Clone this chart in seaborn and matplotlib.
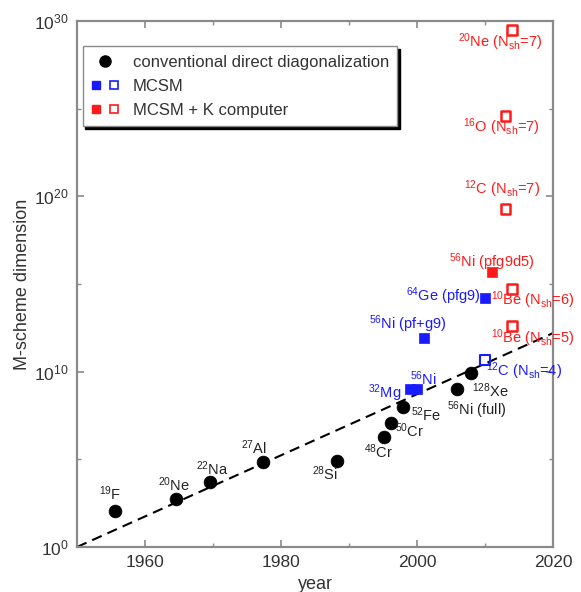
import numpy as np
import pandas as pd
import matplotlib
matplotlib.use("Agg")
import matplotlib.pyplot as plt
import seaborn as sns
from matplotlib.lines import Line2D
from matplotlib.legend_handler import HandlerTuple
from matplotlib.ticker import LogFormatterMathtext, NullFormatter

# ---- data ----
conv_years = [1955.6, 1964.6, 1969.5, 1977.4, 1988.3, 1995.1, 1996.2, 1998.0, 2005.9, 2007.9]
conv_dims = [1.1e2, 5.5e2, 5.2e3, 6.8e4, 7.9e4, 2.0e6, 1.2e7, 1.0e8, 1.0e9, 8.0e9]
conv_labels = [r"$^{19}$F", r"$^{20}$Ne", r"$^{22}$Na", r"$^{27}$Al", r"$^{28}$Si",
               r"$^{48}$Cr", r"$^{50}$Cr", r"$^{52}$Fe", r"$^{56}$Ni (full)", r"$^{128}$Xe"]

mcsm_years = [1999.0, 2000.0, 2001.0, 2010.0]
mcsm_dims = [1.0e9, 1.0e9, 8.0e11, 1.6e14]
mcsm_labels = [r"$^{32}$Mg", r"$^{56}$Ni", r"$^{56}$Ni (pf+g9)", r"$^{64}$Ge (pfg9)"]

mcsm_open_years = [2010.0]
mcsm_open_dims = [4.7e10]
mcsm_open_labels = [r"$^{12}$C (N$_{sh}$=4)"]

k_years = [2011.0]
k_dims = [5.0e15]
k_labels = [r"$^{56}$Ni (pfg9d5)"]

k_open_years = [2014.0, 2014.0, 2013.0, 2013.0, 2014.0]
k_open_dims = [4.0e12, 5.0e14, 2.0e19, 4.0e24, 3.2e29]
k_open_labels = [r"$^{10}$Be (N$_{sh}$=5)", r"$^{10}$Be (N$_{sh}$=6)", r"$^{12}$C (N$_{sh}$=7)",
                 r"$^{16}$O (N$_{sh}$=7)", r"$^{20}$Ne (N$_{sh}$=7)"]

trend_years = [1950, 2020]
trend_dims = [1.0, 1.6e12]

x_ticks = [1960, 1980, 2000, 2020]
y_ticks = [1e0, 1e10, 1e20, 1e30]

# ---- style ----
sns.set_style("ticks")
plt.rcParams["font.family"] = ["Liberation Sans", "DejaVu Sans"]
plt.rcParams["mathtext.fontset"] = "custom"
plt.rcParams["mathtext.rm"] = "Liberation Sans"
plt.rcParams["mathtext.it"] = "Liberation Sans:italic"
plt.rcParams["mathtext.default"] = "regular"

BLUE = "#1a1aff"
RED = "#ff1a1a"
AXC = "#8a8a8a"

fig = plt.figure(figsize=(5.81, 5.92), dpi=100)
ax = fig.add_axes([0.1325, 0.076, 0.8195, 0.8885])

trend = pd.DataFrame({"year": trend_years, "dim": trend_dims})
sns.lineplot(data=trend, x="year", y="dim", ax=ax, color="black", lw=1.5,
             dashes=False, linestyle=(0, (5, 3)), zorder=1)

conv = pd.DataFrame({"year": conv_years, "dim": conv_dims})
sns.scatterplot(data=conv, x="year", y="dim", ax=ax, color="black", marker="o",
                s=85, edgecolor="black", linewidth=0.5, zorder=3)
mc = pd.DataFrame({"year": mcsm_years, "dim": mcsm_dims})
sns.scatterplot(data=mc, x="year", y="dim", ax=ax, color=BLUE, marker="s",
                s=45, edgecolor=BLUE, linewidth=0.5, zorder=3)
mco = pd.DataFrame({"year": mcsm_open_years, "dim": mcsm_open_dims})
sns.scatterplot(data=mco, x="year", y="dim", ax=ax, marker="s", s=50,
                facecolor="none", edgecolor=BLUE, linewidth=1.5, zorder=3)
kk = pd.DataFrame({"year": k_years, "dim": k_dims})
sns.scatterplot(data=kk, x="year", y="dim", ax=ax, color=RED, marker="s",
                s=45, edgecolor=RED, linewidth=0.5, zorder=3)
ko = pd.DataFrame({"year": k_open_years, "dim": k_open_dims})
sns.scatterplot(data=ko, x="year", y="dim", ax=ax, marker="s", s=50,
                facecolor="none", edgecolor=RED, linewidth=1.8, zorder=3)

ax.set_yscale("log")
ax.set_xlim(1950, 2020)
ax.set_ylim(1, 1e30)
ax.set_xticks(x_ticks)
ax.set_xticks([1970, 1990, 2010], minor=True)
ax.set_yticks(y_ticks)
ax.set_yticks([1e5, 1e15, 1e25], minor=True)
ax.yaxis.set_major_formatter(LogFormatterMathtext())
ax.yaxis.set_minor_formatter(NullFormatter())
ax.tick_params(which="both", direction="in", top=True, right=True, color=AXC)
ax.tick_params(which="major", length=5, width=1.2, labelsize=12.5, labelcolor="#333333", pad=6)
ax.tick_params(which="minor", length=3, width=1.0)
for sp in ax.spines.values():
    sp.set_color(AXC)
    sp.set_linewidth(1.6)
ax.set_xlabel("year", fontsize=13, color="#333333", labelpad=4)
ax.set_ylabel("M-scheme dimension", fontsize=13, color="#333333", labelpad=2)

FS = 10.5
def lab(x, y, txt, dx, dy, color, ha="center"):
    ax.annotate(txt, (x, y), xytext=(dx, dy), textcoords="offset pixels",
                ha=ha, va="center", fontsize=FS, color=color, zorder=4,
                annotation_clip=False)

conv_off = [(-5, 18, "center"), (-2, 14, "center"), (3, 13, "center"), (-9, 15, "center"),
            (-12, -13, "center"), (-5, -15, "center"), (4, -8, "left"), (8, -8, "left"),
            (-10, -21, "left"), (1, -17, "left")]
for (x, y, t, o) in zip(conv_years, conv_dims, conv_labels, conv_off):
    lab(x, y, t, o[0], o[1], "#222222", o[2])

mc_off = [(-9, -4, "right"), (-7, 11, "left"), (-16, 14, "center"), (-4, 2, "right")]
for (x, y, t, o) in zip(mcsm_years, mcsm_dims, mcsm_labels, mc_off):
    lab(x, y, t, o[0], o[1], BLUE, o[2])
for (x, y, t) in zip(mcsm_open_years, mcsm_open_dims, mcsm_open_labels):
    lab(x, y, t, 1, -11, BLUE, "left")
for (x, y, t) in zip(k_years, k_dims, k_labels):
    lab(x, y, t, 0, 10, RED, "center")
ko_off = [(-21, -12, "left"), (-21, -11, "left"), (-4, 19, "center"), (-4, -12, "center"), (-12, -13, "center")]
for (x, y, t, o) in zip(k_open_years, k_open_dims, k_open_labels, ko_off):
    lab(x, y, t, o[0], o[1], RED, o[2])

# legend
h_conv = Line2D([], [], ls="none", marker="o", ms=8, color="black")
h_b1 = Line2D([], [], ls="none", marker="s", ms=5.5, color=BLUE)
h_b2 = Line2D([], [], ls="none", marker="s", ms=6, mfc="none", mec=BLUE, mew=1.2)
h_r1 = Line2D([], [], ls="none", marker="s", ms=5.5, color=RED)
h_r2 = Line2D([], [], ls="none", marker="s", ms=6, mfc="none", mec=RED, mew=1.2)
leg = ax.legend([h_conv, (h_b1, h_b2), (h_r1, h_r2)],
                ["conventional direct diagonalization", "MCSM", "MCSM + K computer"],
                handler_map={tuple: HandlerTuple(ndivide=None, pad=0.5)},
                loc="upper left", bbox_to_anchor=(0.012, 0.952), fontsize=12,
                fancybox=False, shadow={"color": "black", "alpha": 1.0},
                edgecolor=AXC, framealpha=1, handlelength=1.7, handletextpad=0.8,
                borderpad=0.5, labelspacing=0.55, borderaxespad=0)
for t in leg.get_texts():
    t.set_color("#333333")

fig.savefig("out.png", dpi=100)
